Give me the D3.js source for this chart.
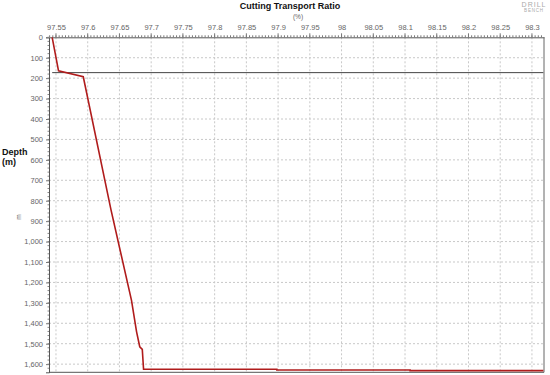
<!DOCTYPE html>
<html><head><meta charset="utf-8">
<script src="https://cdn.jsdelivr.net/npm/d3@7"></script>
<style>body{margin:0;background:#fff;} svg{display:block;font-family:"Liberation Sans",Arial,sans-serif;}</style>
</head><body>
<svg id="c" width="550" height="375"></svg>
<script>
const ratio = [97.544, 97.554, 97.593, 97.6367, 97.669, 97.677, 97.682, 97.686, 97.688, 97.898, 97.898, 98.108, 98.108, 98.318];
const depth = [0, 164, 193, 845, 1288, 1442, 1515, 1528, 1625, 1625, 1629, 1629, 1632, 1632];
const casingDepth = [173];
const casingRange = [97.544, 98.318];
const xTicks = [97.55,97.6,97.65,97.7,97.75,97.8,97.85,97.9,97.95,98,98.05,98.1,98.15,98.2,98.25,98.3];
const yTicks = [0,100,200,300,400,500,600,700,800,900,1000,1100,1200,1300,1400,1500,1600];

const svg = d3.select("#c");
const L=49, R=544, T=37.3, B=372.3;
const x = d3.scaleLinear().domain([97.539, 98.319]).range([L, R]);
const y = d3.scaleLinear().domain([0, 1640]).range([T, B]);

// grid
svg.append("g").selectAll("line").data(xTicks).join("line")
  .attr("x1", d=>x(d)).attr("x2", d=>x(d)).attr("y1", T).attr("y2", B)
  .attr("stroke", "#c8c8c8").attr("stroke-dasharray", "2,2");
svg.append("g").selectAll("line").data(yTicks.slice(1)).join("line")
  .attr("x1", L).attr("x2", R).attr("y1", d=>y(d)).attr("y2", d=>y(d))
  .attr("stroke", "#c8c8c8").attr("stroke-dasharray", "2,2");

// top axis
const minorX = d3.range(97.54, 98.32, 0.005);
const xa = svg.append("g").attr("transform", `translate(0,${T})`)
  .call(d3.axisTop(x).tickValues(xTicks).tickSize(0).tickPadding(7).tickFormat(d3.format("")));
xa.select(".domain").attr("stroke", "#555");
xa.selectAll("text").attr("fill", "#666").attr("font-size", 7.5);
svg.append("g").selectAll("line").data(minorX).join("line")
  .attr("x1", d=>x(d)).attr("x2", d=>x(d)).attr("y1", T).attr("y2", T-2).attr("stroke", "#777");
svg.append("g").selectAll("line").data(xTicks).join("line")
  .attr("x1", d=>x(d)).attr("x2", d=>x(d)).attr("y1", T).attr("y2", T-4).attr("stroke", "#777");

// left axis
const ya = svg.append("g").attr("transform", `translate(${L},0)`)
  .call(d3.axisLeft(y).tickValues(yTicks).tickSize(3).tickPadding(3).tickFormat(d3.format(",")));
ya.select(".domain").attr("stroke", "#555");
ya.selectAll(".tick line").attr("stroke", "#777");
ya.selectAll("text").attr("fill", "#666").attr("font-size", 7.5);
svg.append("g").selectAll("line").data(d3.range(0, 1640, 20)).join("line")
  .attr("x1", L).attr("x2", L-1.5).attr("y1", d=>y(d)).attr("y2", d=>y(d)).attr("stroke", "#888");

// right and bottom border
svg.append("line").attr("x1", R).attr("x2", R).attr("y1", T).attr("y2", B).attr("stroke", "#666");
svg.append("line").attr("x1", L).attr("x2", R).attr("y1", B).attr("y2", B).attr("stroke", "#555");

// casing line
svg.append("g").selectAll("line").data(casingDepth).join("line")
  .attr("x1", x(casingRange[0])).attr("x2", x(casingRange[1]))
  .attr("y1", d=>y(d)).attr("y2", d=>y(d)).attr("stroke", "#444").attr("stroke-width", 1);

// data line
const pts = ratio.map((r,i)=>[r, depth[i]]);
svg.append("path").datum(pts)
  .attr("d", d3.line().x(d=>x(d[0])).y(d=>y(d[1])))
  .attr("fill", "none").attr("stroke", "#b01c1c").attr("stroke-width", 1.6);

// titles
svg.append("text").attr("x", 290).attr("y", 9).attr("text-anchor", "middle")
  .attr("font-weight", "bold").attr("font-size", 9).attr("fill", "#111").text("Cutting Transport Ratio");
svg.append("text").attr("x", 298).attr("y", 19).attr("text-anchor", "middle")
  .attr("font-size", 6.5).attr("fill", "#666").text("(%)");
svg.append("text").attr("x", 2).attr("y", 155).attr("font-weight", "bold").attr("font-size", 9).attr("fill", "#111").text("Depth");
svg.append("text").attr("x", 2).attr("y", 165).attr("font-weight", "bold").attr("font-size", 9).attr("fill", "#111").text("(m)");
svg.append("text").attr("transform", "translate(21,217) rotate(-90)").attr("text-anchor", "middle")
  .attr("font-size", 6.5).attr("fill", "#666").text("m");
svg.append("text").attr("x", 534).attr("y", 7).attr("text-anchor", "middle")
  .attr("font-size", 7).attr("fill", "#aaa").attr("letter-spacing", 1).text("DRILL");
svg.append("text").attr("x", 534).attr("y", 12).attr("text-anchor", "middle")
  .attr("font-size", 4.5).attr("fill", "#aaa").attr("letter-spacing", 0.8).text("BENCH");
</script>
</body></html>
